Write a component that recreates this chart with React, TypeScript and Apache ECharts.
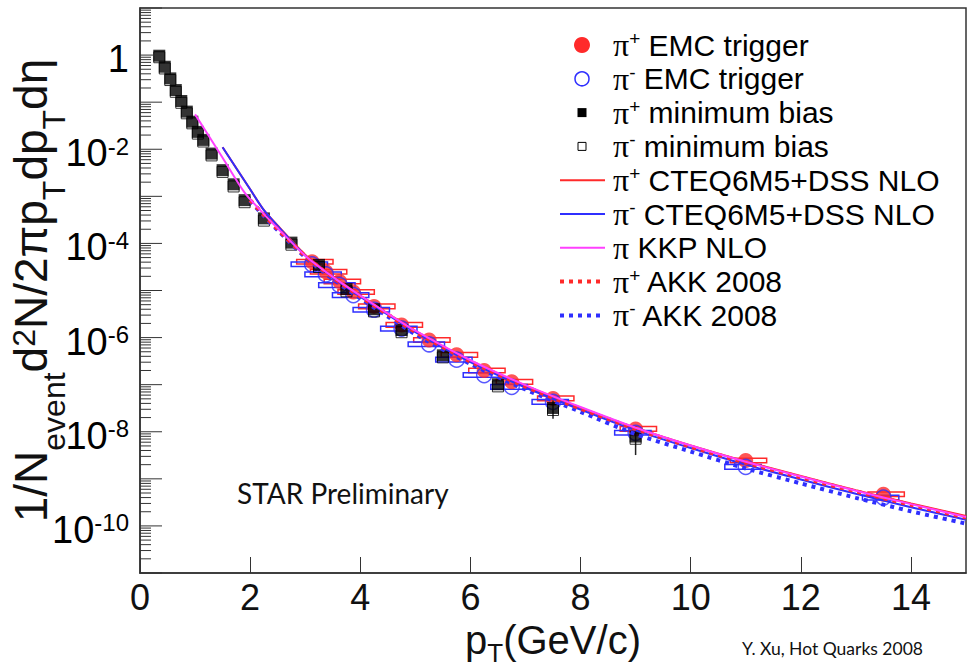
import React, { useEffect, useRef } from 'react';
import * as echarts from 'echarts';

// ---------------- data ----------------
// pi+ minimum bias (filled squares)
const mbX = [0.35, 0.45, 0.55, 0.65, 0.75, 0.85, 0.95, 1.05, 1.15, 1.3, 1.5, 1.7, 1.9, 2.25, 2.75, 3.25, 3.75, 4.25, 4.75, 5.5, 6.5, 7.5, 9.0];
const mbPosY = [0.97, 0.566, 0.32, 0.181, 0.106, 0.063, 0.0385, 0.0234, 0.0158, 8.1e-3, 3.6e-3, 1.8e-3, 8.3e-4, 3.4e-4, 1.04e-4, 3.5e-5, 1.07e-5, 4.0e-6, 1.45e-6, 4.2e-7, 1.02e-7, 3.2e-8, 7.9e-9];
// pi- minimum bias (open squares)
const mbNegY = [0.9, 0.52, 0.295, 0.166, 0.097, 0.058, 0.0355, 0.0215, 0.0146, 7.4e-3, 3.3e-3, 1.62e-3, 7.5e-4, 3.05e-4, 9.4e-5, 3.15e-5, 9.6e-6, 3.6e-6, 1.3e-6, 3.8e-7, 9.2e-8, 2.9e-8, 7.1e-9];
// statistical error bars visible on minimum bias points
const mbErrX = [7.5, 9.0];
const mbErrLow = [1.9e-8, 3.2e-9];
const mbErrHigh = [4.6e-8, 1.3e-8];

// EMC trigger
const emcX = [3.125, 3.375, 3.625, 3.875, 4.25, 4.75, 5.25, 5.75, 6.25, 6.75, 7.5, 9.0, 11.0, 13.5];
const emcPosY = [4.07e-5, 2.5e-5, 1.55e-5, 9.3e-6, 4.6e-6, 1.86e-6, 8.9e-7, 4.3e-7, 2.0e-7, 1.15e-7, 5.1e-8, 1.15e-8, 2.45e-9, 4.7e-10];
const emcNegY = [3.6e-5, 2.2e-5, 1.3e-5, 8.0e-6, 3.9e-6, 1.55e-6, 7.2e-7, 3.4e-7, 1.6e-7, 9.0e-8, 4.3e-8, 9.5e-9, 1.8e-9, 4.0e-10];

// NLO curves
const cteqX = [1.5, 2.0, 2.25, 2.5, 3, 3.5, 4, 4.5, 5, 6, 7, 8, 9, 10, 11, 12, 13, 14, 15];
const cteqPosY = [1.1e-2, 1.41e-3, 5.1e-4, 2.4e-4, 5.75e-5, 2.0e-5, 7.8e-6, 3.24e-6, 1.38e-6, 3.24e-7, 9.5e-8, 3.24e-8, 1.2e-8, 5.1e-9, 2.34e-9, 1.15e-9, 5.75e-10, 3.0e-10, 1.62e-10];
const cteqNegY = [1.1e-2, 1.41e-3, 5.1e-4, 2.35e-4, 5.5e-5, 1.9e-5, 7.4e-6, 3.05e-6, 1.3e-6, 3.0e-7, 8.7e-8, 2.95e-8, 1.07e-8, 4.5e-9, 2.0e-9, 9.7e-10, 4.8e-10, 2.5e-10, 1.35e-10];
const kkpX = [1.0, 1.5, 1.9, 2.25, 2.5, 3, 3.5, 4, 4.5, 5, 6, 7, 8, 9, 10, 11, 12, 13, 14, 15];
const kkpY = [5.5e-2, 6.6e-3, 1.2e-3, 4.2e-4, 2.1e-4, 5.5e-5, 1.95e-5, 7.8e-6, 3.24e-6, 1.4e-6, 3.3e-7, 9.8e-8, 3.35e-8, 1.22e-8, 5.1e-9, 2.3e-9, 1.12e-9, 5.6e-10, 2.9e-10, 1.55e-10];
const akkX = [2.0, 2.25, 2.5, 3, 3.5, 4, 4.5, 5, 6, 7, 8, 9, 10, 11, 12, 13, 14, 15];
const akkPosY = [8.3e-4, 4.0e-4, 2.0e-4, 5.4e-5, 1.9e-5, 7.4e-6, 3.1e-6, 1.32e-6, 3.1e-7, 9.1e-8, 3.1e-8, 1.15e-8, 4.8e-9, 2.2e-9, 1.07e-9, 5.4e-10, 2.8e-10, 1.5e-10];
const akkNegY = [8.0e-4, 3.8e-4, 1.9e-4, 5.1e-5, 1.75e-5, 6.8e-6, 2.8e-6, 1.18e-6, 2.75e-7, 7.9e-8, 2.65e-8, 8.9e-9, 3.8e-9, 1.66e-9, 8.0e-10, 3.95e-10, 2.05e-10, 1.12e-10];

// axis ticks / labels
const xTickLabels = ['0', '2', '4', '6', '8', '10', '12', '14'];
const yLabelDecades = [1, 1e-2, 1e-4, 1e-6, 1e-8, 1e-10];
const yDecadeExponents = [-11, -10, -9, -8, -7, -6, -5, -4, -3, -2, -1, 0];

// legend
const legendItems = [
  { key: 'emcPos', sup: '+', label: ' EMC trigger' },
  { key: 'emcNeg', sup: '-', label: ' EMC trigger' },
  { key: 'mbPos', sup: '+', label: ' minimum bias' },
  { key: 'mbNeg', sup: '-', label: ' minimum bias' },
  { key: 'cteqPos', sup: '+', label: ' CTEQ6M5+DSS NLO' },
  { key: 'cteqNeg', sup: '-', label: ' CTEQ6M5+DSS NLO' },
  { key: 'kkp', sup: '', label: ' KKP NLO' },
  { key: 'akkPos', sup: '+', label: ' AKK 2008' },
  { key: 'akkNeg', sup: '-', label: ' AKK 2008' },
];

// ---------------- styles ----------------
const SANS = '"Liberation Sans", Arial, Helvetica, sans-serif';
const SERIF = '"Liberation Serif", "DejaVu Serif", serif';
const GILL = 'Lato, "Open Sans", sans-serif';
const RED = '#ff2a2a';
const BLUE = '#2f2fff';
const MAGENTA = '#ff40ff';

const GRID = { left: 140, top: 8, width: 826, height: 565 };

function zip(xs: number[], ys: number[]) {
  return xs.map((x, i) => [x, ys[i]]);
}

const tickData: number[][] = [];
yDecadeExponents.forEach((e) => {
  for (let k = 1; k <= 9; k++) {
    tickData.push([0, k * Math.pow(10, e), k === 1 ? 22 : 11]);
  }
});
tickData.push([0, 10, 22]);

const yLabelRich = {
  m: { fontSize: 38, fontFamily: SANS, color: '#111' },
  s: { fontSize: 24, fontFamily: SANS, color: '#111', verticalAlign: 'top', lineHeight: 12 },
};

function boxSeries(xs: number[], ys: number[], color: string, dx: number) {
  return {
    type: 'custom',
    z: 2,
    silent: true,
    data: zip(xs, ys),
    renderItem: (params: any, api: any) => {
      const x = api.value(0);
      const y = api.value(1);
      const p1 = api.coord([x - 0.33 + dx, y * 1.12]);
      const p2 = api.coord([x + 0.33 + dx, y / 1.12]);
      return {
        type: 'rect',
        shape: { x: p1[0], y: p1[1], width: p2[0] - p1[0], height: p2[1] - p1[1] },
        style: { fill: 'none', stroke: color, lineWidth: 1.5 },
      };
    },
  };
}

function lineSeries(name: string, xs: number[], ys: number[], color: string, dotted: boolean, z: number) {
  return {
    name,
    type: 'line',
    z,
    data: zip(xs, ys),
    showSymbol: false,
    smooth: 0.25,
    silent: true,
    lineStyle: dotted ? { color, width: 4, type: [4, 5] } : { color, width: 2 },
  };
}

function legendGraphics() {
  const els: any[] = [];
  const x0 = 582;
  const lineStyles: Record<string, any> = {
    cteqPos: { stroke: RED, lineWidth: 2 },
    cteqNeg: { stroke: BLUE, lineWidth: 2 },
    kkp: { stroke: MAGENTA, lineWidth: 2 },
    akkPos: { stroke: RED, lineWidth: 4, lineDash: [4, 5] },
    akkNeg: { stroke: BLUE, lineWidth: 4, lineDash: [4, 5] },
  };
  legendItems.forEach((it, i) => {
    const y = 45 + i * 33.8;
    if (it.key === 'emcPos') els.push({ type: 'circle', shape: { cx: x0, cy: y, r: 8 }, style: { fill: RED } });
    if (it.key === 'emcNeg') els.push({ type: 'circle', shape: { cx: x0, cy: y, r: 7 }, style: { fill: 'none', stroke: BLUE, lineWidth: 1.5 } });
    if (it.key === 'mbPos') els.push({ type: 'rect', shape: { x: x0 - 4.5, y: y - 4.5, width: 9, height: 9 }, style: { fill: '#000' } });
    if (it.key === 'mbNeg') els.push({ type: 'rect', shape: { x: x0 - 4, y: y - 4, width: 8, height: 8 }, style: { fill: 'none', stroke: '#000', lineWidth: 1 } });
    if (lineStyles[it.key]) {
      els.push({ type: 'line', shape: { x1: 560, y1: y, x2: 605, y2: y }, style: lineStyles[it.key] });
    }
    const text = it.sup ? `{p|π}{s|${it.sup}}{t|${it.label}}` : `{p|π}{t|${it.label}}`;
    els.push({
      type: 'text',
      x: 613,
      y: y,
      style: {
        text,
        align: 'left',
        verticalAlign: 'middle',
        rich: {
          p: { fontSize: 32, fontFamily: SERIF, color: '#111' },
          s: { fontSize: 19, fontFamily: SANS, color: '#111', verticalAlign: 'top', lineHeight: 10 },
          t: { fontSize: 30, fontFamily: SANS, color: '#111' },
        },
      },
    });
  });
  return els;
}

const option: any = {
  animation: false,
  backgroundColor: '#fff',
  grid: {
    ...GRID,
    containLabel: false,
    outerBoundsMode: 'none',
    show: true,
    borderColor: '#333',
    borderWidth: 1.5,
    backgroundColor: 'transparent',
  },
  xAxis: {
    type: 'value',
    min: 0,
    max: 15,
    interval: 2,
    name: '{a|p}{b|T}{a|(GeV/c)}',
    nameLocation: 'middle',
    nameGap: 28,
    nameTextStyle: {
      rich: {
        a: { fontSize: 40, fontFamily: SANS, color: '#111', lineHeight: 46, verticalAlign: 'top' },
        b: { fontSize: 26, fontFamily: SANS, color: '#111', verticalAlign: 'bottom' },
      },
    },
    axisLine: { show: true, lineStyle: { color: '#333', width: 1.5 } },
    axisTick: { show: true, inside: true, length: 16, lineStyle: { color: '#333', width: 1 } },
    axisLabel: {
      show: true,
      margin: 6,
      fontSize: 36,
      fontFamily: SANS,
      color: '#111',
      showMaxLabel: false,
      formatter: (v: number) => (v % 2 === 0 ? xTickLabels[v / 2] ?? '' : ''),
    },
    splitLine: { show: false },
  },
  yAxis: {
    type: 'log',
    logBase: 10,
    min: 1e-11,
    max: 10,
    name: '{a|1/N}{b|event}{a|d}{c|2}{a|N/2πp}{b|T}{a|dp}{b|T}{a|dη}',
    nameLocation: 'middle',
    nameRotate: 90,
    nameGap: 70,
    nameTextStyle: {
      rich: {
        a: { fontSize: 46, fontFamily: SANS, color: '#111', lineHeight: 62, verticalAlign: 'top' },
        b: { fontSize: 32, fontFamily: SANS, color: '#111', verticalAlign: 'bottom' },
        c: { fontSize: 32, fontFamily: SANS, color: '#111', verticalAlign: 'top' },
      },
    },
    axisLine: { show: true, lineStyle: { color: '#333', width: 1.5 } },
    axisTick: { show: false },
    axisLabel: { show: false },
    splitLine: { show: false },
    minorTick: { show: false },
  },
  graphic: [
    ...legendGraphics(),
    {
      type: 'text',
      x: 237,
      y: 493,
      style: { text: 'STAR Preliminary', fontSize: 28, fontFamily: GILL, fill: '#111', verticalAlign: 'middle' },
    },
    {
      type: 'text',
      x: 742,
      y: 648,
      style: { text: 'Y. Xu, Hot Quarks 2008', fontSize: 17.5, fontFamily: GILL, fill: '#111', verticalAlign: 'middle' },
    },
  ],
  series: [
    // y-axis ticks (log scale, drawn inside)
    {
      type: 'custom',
      silent: true,
      z: 8,
      data: tickData,
      renderItem: (params: any, api: any) => {
        const p = api.coord([0, api.value(1)]);
        const len = api.value(2);
        return {
          type: 'line',
          shape: { x1: p[0], y1: p[1], x2: p[0] + len, y2: p[1] },
          style: { stroke: '#333', lineWidth: 1 },
        };
      },
    },
    // y-axis labels
    {
      type: 'custom',
      silent: true,
      z: 8,
      data: yLabelDecades.map((v) => [0, v]),
      renderItem: (params: any, api: any) => {
        const v = api.value(1);
        const p = api.coord([0, v]);
        const e = Math.round(Math.log10(v));
        const text = e === 0 ? '{m|1}' : `{m|10}{s|${e}}`;
        return {
          type: 'text',
          x: p[0] - 11,
          y: p[1] + 4,
          style: { text, rich: yLabelRich, align: 'right', verticalAlign: 'middle' },
        };
      },
    },
    boxSeries(emcX, emcPosY, RED, 0.05),
    boxSeries(emcX, emcNegY, BLUE, -0.05),
    {
      name: 'π+ EMC trigger',
      type: 'scatter',
      z: 3,
      data: zip(emcX, emcPosY),
      symbol: 'circle',
      symbolSize: 15,
      itemStyle: { color: RED },
    },
    {
      name: 'π- EMC trigger',
      type: 'scatter',
      z: 3,
      data: zip(emcX, emcNegY),
      symbol: 'circle',
      symbolSize: 15,
      itemStyle: { color: 'transparent', borderColor: BLUE, borderWidth: 1.5 },
    },
    {
      name: 'π+ minimum bias',
      type: 'scatter',
      z: 4,
      data: zip(mbX, mbPosY),
      symbol: 'rect',
      symbolSize: 12,
      itemStyle: { color: '#000' },
    },
    {
      name: 'π- minimum bias',
      type: 'scatter',
      z: 4,
      data: zip(mbX, mbNegY),
      symbol: 'rect',
      symbolSize: 11,
      itemStyle: { color: 'transparent', borderColor: '#000', borderWidth: 1 },
    },
    {
      type: 'custom',
      z: 4,
      silent: true,
      data: mbErrX.map((x, i) => [x, mbErrLow[i], mbErrHigh[i]]),
      renderItem: (params: any, api: any) => {
        const x = api.value(0);
        const p1 = api.coord([x, api.value(1)]);
        const p2 = api.coord([x, api.value(2)]);
        return { type: 'line', shape: { x1: p1[0], y1: p1[1], x2: p2[0], y2: p2[1] }, style: { stroke: '#222', lineWidth: 1.5 } };
      },
    },
    lineSeries('π- AKK 2008', akkX, akkNegY, BLUE, true, 5),
    lineSeries('π+ CTEQ6M5+DSS NLO', cteqX, cteqPosY, RED, false, 6),
    lineSeries('π- CTEQ6M5+DSS NLO', cteqX, cteqNegY, BLUE, false, 7),
    lineSeries('π+ AKK 2008', akkX, akkPosY, RED, true, 7),
    lineSeries('π KKP NLO', kkpX, kkpY, MAGENTA, false, 7),
  ],
};

export default function App() {
  const ref = useRef<HTMLDivElement>(null);
  useEffect(() => {
    const chart = echarts.init(ref.current as HTMLDivElement, null, { renderer: 'svg' });
    chart.setOption(option);
    return () => chart.dispose();
  }, []);
  return (
    <div
      ref={ref}
      style={{ position: 'absolute', left: 0, top: 0, width: 971, height: 667, background: '#fff' }}
    />
  );
}
